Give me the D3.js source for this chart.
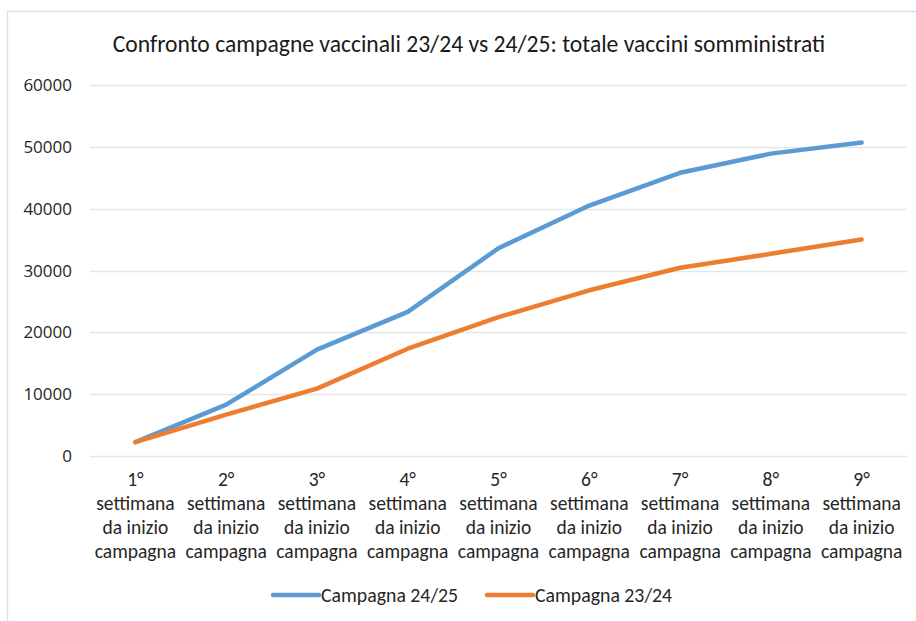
<!DOCTYPE html>
<html>
<head>
<meta charset="utf-8">
<script src="https://cdn.jsdelivr.net/npm/d3@7"></script>
<style>
  body { margin: 0; background: #fff; }
  svg { display: block; }
</style>
</head>
<body>
<div id="chart"></div>
<script>
// chart data
const weeks = ["1°", "2°", "3°", "4°", "5°", "6°", "7°", "8°", "9°"];
const camp2425 = [2250, 8300, 17200, 23300, 33600, 40500, 45800, 48900, 50700];
const camp2324 = [2250, 6700, 10900, 17350, 22450, 26800, 30450, 32700, 35000];
const seriesNames = ["Campagna 24/25", "Campagna 23/24"];
const yTicks = [0, 10000, 20000, 30000, 40000, 50000, 60000];

const width = 916, height = 621;
const margin = { top: 85, right: 9, bottom: 165, left: 90 };
const colors = ["#5b9bd5", "#ed7d31"];
const textFont = "Carlito, Calibri, 'Liberation Sans Narrow', 'Arial Narrow', sans-serif";

const svg = d3.select("#chart")
  .append("svg")
  .attr("width", width)
  .attr("height", height);

// outer frame (only top and left edges are visible)
svg.append("rect")
  .attr("x", 7.5).attr("y", 11.5)
  .attr("width", 940).attr("height", 640)
  .attr("fill", "#fff")
  .attr("stroke", "#dde1e6")
  .attr("stroke-width", 1.5);

const x = d3.scaleBand()
  .domain(weeks)
  .range([margin.left, width - margin.right]);

const y = d3.scaleLinear()
  .domain([0, 60000])
  .range([height - margin.bottom, margin.top]);

// title
svg.append("text")
  .attr("x", 469)
  .attr("y", 52)
  .attr("text-anchor", "middle")
  .style("font-family", textFont)
  .style("font-size", "23.6px")
  .attr("fill", "#1a1a1a")
  .text("Confronto campagne vaccinali 23/24 vs 24/25: totale vaccini somministrati");

// gridlines
svg.append("g")
  .selectAll("line")
  .data(yTicks)
  .join("line")
  .attr("x1", margin.left)
  .attr("x2", width - margin.right)
  .attr("y1", (d) => Math.round(y(d)) + 0.5)
  .attr("y2", (d) => Math.round(y(d)) + 0.5)
  .attr("stroke", "#e3e5e9")
  .attr("stroke-width", 1.3);

// y axis labels
svg.append("g")
  .selectAll("text")
  .data(yTicks)
  .join("text")
  .attr("x", 72)
  .attr("y", (d) => y(d))
  .attr("dy", "0.36em")
  .attr("text-anchor", "end")
  .style("font-family", "'Open Sans', sans-serif")
  .style("font-size", "17px")
  .attr("fill", "#262626")
  .text((d) => d);

// x axis labels
const xLab = svg.append("g")
  .selectAll("text")
  .data(weeks)
  .join("text")
  .attr("text-anchor", "middle")
  .style("font-family", textFont)
  .style("font-size", "19.5px")
  .attr("fill", "#262626");

xLab.each(function (d) {
  const cx = x(d) + x.bandwidth() / 2;
  const lines = [d, "settimana", "da inizio", "campagna"];
  d3.select(this)
    .selectAll("tspan")
    .data(lines)
    .join("tspan")
    .attr("x", cx)
    .attr("y", (l, i) => 486 + i * 24)
    .text((l) => l);
});

// lines
const line = d3.line()
  .x((d, i) => x(weeks[i]) + x.bandwidth() / 2)
  .y((d) => y(d));

svg.append("g")
  .selectAll("path")
  .data([camp2425, camp2324])
  .join("path")
  .attr("d", line)
  .attr("fill", "none")
  .attr("stroke", (d, i) => colors[i])
  .attr("stroke-width", 4.5)
  .attr("stroke-linecap", "round")
  .attr("stroke-linejoin", "round");

// legend
const legendX = [273, 487];
const legend = svg.append("g")
  .selectAll("g")
  .data(seriesNames)
  .join("g")
  .attr("transform", (d, i) => `translate(${legendX[i]},595)`);

legend.append("line")
  .attr("x1", 0).attr("x2", 46)
  .attr("stroke", (d, i) => colors[i])
  .attr("stroke-width", 4.5)
  .attr("stroke-linecap", "round");

legend.append("text")
  .attr("x", 48)
  .attr("dy", "0.35em")
  .style("font-family", textFont)
  .style("font-size", "19.8px")
  .attr("fill", "#262626")
  .text((d) => d);
</script>
</body>
</html>
